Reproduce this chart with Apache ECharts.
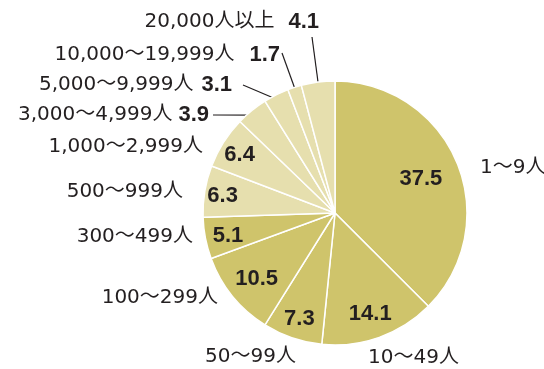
<!DOCTYPE html>
<html>
<head>
<meta charset="utf-8">
<script src="https://cdn.jsdelivr.net/npm/echarts@6/dist/echarts.min.js"></script>
<style>
  html, body { margin: 0; padding: 0; background: #fff; }
  #chart { width: 544px; height: 369px; }
</style>
</head>
<body>
<div id="chart"></div>
<script>
// Establishment size classes and their share (%)
const categories = ['1〜9人', '10〜49人', '50〜99人', '100〜299人', '300〜499人', '500〜999人',
  '1,000〜2,999人', '3,000〜4,999人', '5,000〜9,999人', '10,000〜19,999人', '20,000人以上'];
const shares = [37.5, 14.1, 7.3, 10.5, 5.1, 6.3, 6.4, 3.9, 3.1, 1.7, 4.1];

// Styling / layout
const DARK = '#cfc46b';
const LIGHT = '#e6dfae';
const TEXT = '#231f20';
const CENTER = [335, 213];
const R = 132;
const NAME_FONT = '"DejaVu Sans", "Noto Sans CJK JP", sans-serif';
const VALUE_FONT = '"Liberation Sans", Arial, sans-serif';
const darkCount = 5;      // first classes drawn in the darker tone
const insideCount = 7;    // classes whose value sits inside the slice

// Distance of each inside value from the pie centre
const valueRadii = [93, 105, 110, 101, 109, 114, 113];
// Name-label anchors: [x, y, align]
const nameSpots = [
  [480, 168, 'left'], [368, 358, 'left'], [205, 357, 'left'], [218, 298, 'right'],
  [193, 237, 'right'], [183, 192, 'right'], [203, 147, 'right'], [209, 115, 'right'],
  [232, 85, 'right'], [280, 55, 'right'], [319, 22, 'right']
];
// Gap between name and value for the outer-valued classes
const valueGaps = { 7: 6, 8: 8, 9: 15, 10: 14 };
// Leader-line start points for the small outer slices (index -> [x, y])
const leaderStarts = { 7: [213, 115], 8: [243, 85], 9: [282, 53], 10: [312, 37] };

const chart = echarts.init(document.getElementById('chart'), null, { renderer: 'canvas' });

const mainData = categories.map((c, i) => ({
  name: c, value: shares[i],
  itemStyle: { color: i < darkCount ? DARK : LIGHT }
}));

const valueData = categories.map((c, i) => ({
  name: c, value: shares[i],
  label: { show: i < insideCount }
}));

const nameData = categories.map((c, i) => ({
  name: c, value: shares[i],
  labelLine: { show: i >= insideCount }
}));

const nameRich = {
  n: { fontFamily: NAME_FONT, fontSize: 20, color: TEXT },
  v: { fontFamily: VALUE_FONT, fontSize: 22, fontWeight: 'bold', color: TEXT }
};
Object.keys(valueGaps).forEach(k => { nameRich['g' + k] = { width: valueGaps[k] }; });

chart.setOption({
  animation: false,
  backgroundColor: '#fff',
  series: [
    {
      type: 'pie',
      center: CENTER,
      radius: [0, R],
      startAngle: 90,
      clockwise: true,
      silent: true,
      itemStyle: { borderColor: '#fff', borderWidth: 1.5 },
      label: { show: false },
      labelLine: { show: false },
      data: mainData
    },
    {
      // values printed inside the larger slices
      type: 'pie',
      center: CENTER,
      radius: [70, R],
      startAngle: 90,
      clockwise: true,
      silent: true,
      itemStyle: { color: 'rgba(0,0,0,0)', borderWidth: 0 },
      label: {
        position: 'inside',
        formatter: p => p.value.toFixed(1),
        fontFamily: VALUE_FONT,
        fontWeight: 'bold',
        fontSize: 22,
        color: TEXT
      },
      labelLine: { show: false },
      labelLayout: function (params) {
        const r = params.labelRect;
        const cx = r.x + r.width / 2, cy = r.y + r.height / 2;
        const dx = cx - CENTER[0], dy = cy - CENTER[1];
        const d = Math.sqrt(dx * dx + dy * dy) || 1;
        const k = (valueRadii[params.dataIndex] || d) / d;
        return {
          x: CENTER[0] + dx * k,
          y: CENTER[1] + dy * k + 2,
          align: 'center',
          verticalAlign: 'middle'
        };
      },
      data: valueData
    },
    {
      // class names around the pie
      type: 'pie',
      center: CENTER,
      radius: [0, R - 6],
      startAngle: 90,
      clockwise: true,
      silent: true,
      avoidLabelOverlap: false,
      itemStyle: { color: 'rgba(0,0,0,0)', borderWidth: 0 },
      label: {
        show: true,
        position: 'outside',
        formatter: p => p.dataIndex >= insideCount
          ? '{n|' + p.name + '}{g' + p.dataIndex + '|}{v|' + p.value.toFixed(1) + '}'
          : '{n|' + p.name + '}',
        rich: nameRich
      },
      labelLine: { show: true, lineStyle: { color: TEXT, width: 1.2 } },
      labelLayout: function (params) {
        const i = params.dataIndex;
        const s = nameSpots[i];
        const out = { x: s[0], y: s[1], align: s[2], verticalAlign: 'middle' };
        if (leaderStarts[i] && params.labelLinePoints) {
          const edge = params.labelLinePoints[0];
          out.labelLinePoints = [leaderStarts[i], [edge[0], edge[1]]];
        }
        return out;
      },
      data: nameData
    }
  ]
});
</script>
</body>
</html>
